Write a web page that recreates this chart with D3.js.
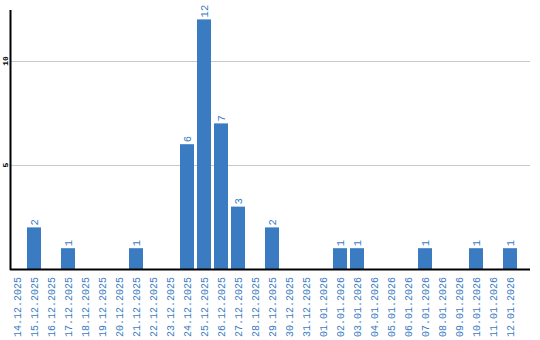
<!DOCTYPE html>
<html>
<head>
<meta charset="utf-8">
<script src="https://cdn.jsdelivr.net/npm/d3@7"></script>
<style>
  body { margin: 0; background: #fff; }
  svg { display: block; }
</style>
</head>
<body>
<div id="chart"></div>
<script>
var dates = ["14.12.2025", "15.12.2025", "16.12.2025", "17.12.2025", "18.12.2025", "19.12.2025",
    "20.12.2025", "21.12.2025", "22.12.2025", "23.12.2025", "24.12.2025", "25.12.2025",
    "26.12.2025", "27.12.2025", "28.12.2025", "29.12.2025", "30.12.2025", "31.12.2025",
    "01.01.2026", "02.01.2026", "03.01.2026", "04.01.2026", "05.01.2026", "06.01.2026",
    "07.01.2026", "08.01.2026", "09.01.2026", "10.01.2026", "11.01.2026", "12.01.2026"];
var counts = [0, 2, 0, 1, 0, 0, 0, 1, 0, 0, 6, 12, 7, 3, 0, 2, 0, 0, 0, 1, 1, 0, 0, 0, 1, 0, 0, 1, 0, 1];
var yTicks = [5, 10];

var width = 540, height = 340;
var padLeft = 10, padRight = 530, padTop = 9, base = 269;
var blue = "#3a7bc2";
var font = "Liberation Mono, DejaVu Sans Mono, monospace";

var svg = d3.select("#chart").append("svg")
    .attr("width", width)
    .attr("height", height);

var x = d3.scaleBand()
    .domain(dates)
    .range([padLeft, padLeft + dates.length * 17 - 3])
    .paddingInner(3 / 17)
    .paddingOuter(0);

var y = d3.scaleLinear()
    .domain([0, 12.5])
    .range([base, padTop]);

// grid lines
svg.append("g").selectAll("line")
    .data(yTicks)
    .enter().append("line")
    .attr("x1", padLeft)
    .attr("x2", padRight)
    .attr("y1", function(d) { return Math.round(y(d)) + 0.5; })
    .attr("y2", function(d) { return Math.round(y(d)) + 0.5; })
    .attr("stroke", "#c8c8c8")
    .attr("stroke-width", 1);

// bars
svg.append("g").selectAll("rect")
    .data(counts)
    .enter().append("rect")
    .attr("x", function(d, i) { return Math.round(x(dates[i])); })
    .attr("y", function(d) { return y(d); })
    .attr("width", Math.round(x.bandwidth()))
    .attr("height", function(d) { return base - y(d); })
    .attr("fill", blue);

// value labels
var vals = svg.append("g");
counts.forEach(function(d, i) {
    if (d === 0) return;
    var cx = x(dates[i]) + x.bandwidth() / 2 + 4;
    vals.append("text")
        .attr("transform", "translate(" + cx + "," + (y(d) - 2) + ") rotate(-90)")
        .attr("text-anchor", "start")
        .attr("font-family", font)
        .attr("font-size", "10.5px")
        .attr("fill", blue)
        .text(d);
});

// y tick labels
svg.append("g").selectAll("text")
    .data(yTicks)
    .enter().append("text")
    .attr("transform", function(d) { return "translate(" + 8 + "," + y(d) + ") rotate(-90)"; })
    .attr("text-anchor", "middle")
    .attr("font-family", font)
    .attr("font-size", "8px")
    .attr("font-weight", "bold")
    .attr("fill", "#000")
    .text(function(d) { return d; });

// x labels
svg.append("g").selectAll("text")
    .data(dates)
    .enter().append("text")
    .attr("transform", function(d) {
        return "translate(" + (x(d) + x.bandwidth() / 2 + 4) + "," + 277 + ") rotate(-90)";
    })
    .attr("text-anchor", "end")
    .attr("font-family", font)
    .attr("font-size", "10px")
    .attr("fill", blue)
    .text(function(d) { return d; });

// axis lines
svg.append("line")
    .attr("x1", padLeft + 0.5).attr("x2", padLeft + 0.5)
    .attr("y1", padTop + 1).attr("y2", base + 1)
    .attr("stroke", "#000").attr("stroke-width", 2);
svg.append("line")
    .attr("x1", padLeft).attr("x2", padRight)
    .attr("y1", base + 0.5).attr("y2", base + 0.5)
    .attr("stroke", "#000").attr("stroke-width", 2);
</script>
</body>
</html>
